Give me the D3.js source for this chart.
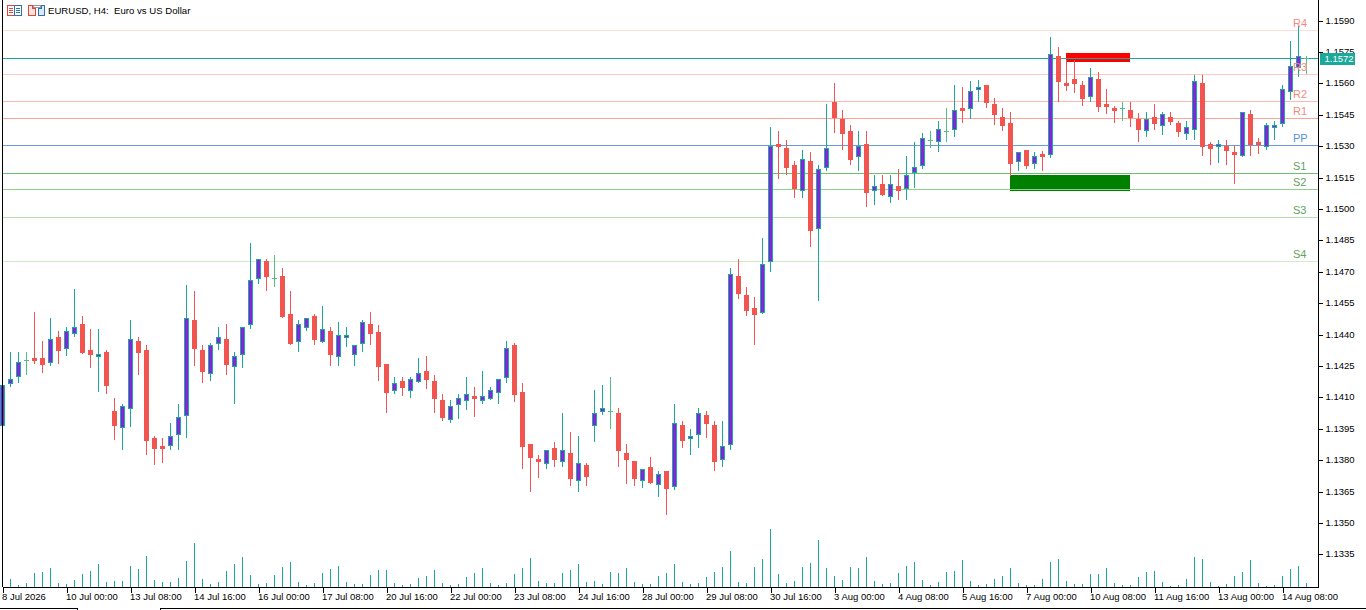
<!DOCTYPE html>
<html lang="en">
<head>
<meta charset="utf-8">
<title>EURUSD, H4</title>
<script src="https://cdn.jsdelivr.net/npm/d3@7"></script>
<style>
  html, body { margin: 0; padding: 0; background: #fff; overflow: hidden; }
  svg { display: block; }
  text { font-family: "Liberation Sans", Arial, sans-serif; font-size: 9.5px; fill: #000; }
  .axis path, .axis line { fill: none; stroke: #000; shape-rendering: crispEdges; }
  .wick, .level, .vol, .dash { shape-rendering: crispEdges; }
  rect { shape-rendering: crispEdges; }
</style>
</head>
<body>
<svg id="chart" width="1366" height="610"></svg>
<script>
var opens = [1.13962,1.14163,1.14197,1.14278,1.14288,1.14288,1.14264,1.14388,1.14331,1.14402,1.14450,1.14326,1.14293,1.14316,1.14034,1.13953,1.14044,1.14369,1.14326,1.13906,1.13867,1.13867,1.13920,1.14010,1.14469,1.14326,1.14211,1.14355,1.14378,1.14245,1.14302,1.14445,
  1.14665,1.14751,1.14670,1.14679,1.14498,1.14364,1.14431,1.14488,1.14364,1.14416,1.14293,1.14383,1.14302,1.14355,1.14450,1.14411,1.14259,1.14130,1.14177,1.14130,1.14172,1.14225,1.14177,1.14087,1.13991,1.14063,1.14082,1.14106,1.14082,1.14092,1.14121,1.14192,
  1.14350,1.14125,1.13877,1.13805,1.13781,1.13858,1.13790,1.13834,1.13700,1.13776,1.13962,1.14029,1.14034,1.14025,1.13834,1.13795,1.13700,1.13767,1.13681,1.13747,1.13672,1.13967,1.13901,1.13920,1.14015,1.13967,1.13800,1.13872,1.14679,1.14588,1.14527,1.14503,
  1.14746,1.15310,1.15291,1.15210,1.15085,1.15229,1.14904,1.15196,1.15510,1.15429,1.15372,1.15248,1.15310,1.15085,1.15119,1.15057,1.15109,1.15095,1.15172,1.15205,1.15329,1.15319,1.15372,1.15377,1.15482,1.15477,1.15568,1.15592,1.15501,1.15439,1.15411,1.15224,
  1.15281,1.15215,1.15262,1.15257,1.15730,1.15602,1.15621,1.15592,1.15535,1.15621,1.15501,1.15482,1.15482,1.15472,1.15429,1.15372,1.15439,1.15396,1.15439,1.15411,1.15358,1.15377,1.15602,1.15310,1.15296,1.15300,1.15271,1.15252,1.15453,1.15319,1.15296,1.15387,
  1.15406,1.15558,1.15673,1.15720];
var highs = [1.14158,1.14316,1.14316,1.14316,1.14507,1.14369,1.14479,1.14416,1.14436,1.14617,1.14488,1.14426,1.14426,1.14326,1.14097,1.14068,1.14469,1.14388,1.14350,1.13915,1.13906,1.13977,1.14068,1.14636,1.14607,1.14350,1.14360,1.14436,1.14450,1.14316,1.14436,1.14837,
  1.14761,1.14761,1.14780,1.14718,1.14607,1.14469,1.14479,1.14498,1.14536,1.14436,1.14459,1.14436,1.14350,1.14469,1.14507,1.14445,1.14259,1.14197,1.14197,1.14197,1.14288,1.14297,1.14206,1.14116,1.14087,1.14116,1.14197,1.14149,1.14225,1.14149,1.14187,1.14369,
  1.14360,1.14168,1.13877,1.13824,1.13848,1.13886,1.14025,1.13934,1.13915,1.13786,1.14135,1.14158,1.14197,1.14049,1.13877,1.13795,1.13757,1.13815,1.13747,1.13747,1.14068,1.13986,1.13948,1.14049,1.14034,1.13986,1.13986,1.14718,1.14761,1.14627,1.14579,1.14861,
  1.15392,1.15372,1.15329,1.15229,1.15281,1.15271,1.15210,1.15501,1.15602,1.15472,1.15401,1.15372,1.15372,1.15162,1.15162,1.15162,1.15191,1.15252,1.15319,1.15363,1.15372,1.15420,1.15482,1.15592,1.15583,1.15611,1.15616,1.15592,1.15530,1.15482,1.15462,1.15271,
  1.15281,1.15271,1.15276,1.15822,1.15774,1.15711,1.15711,1.15611,1.15673,1.15654,1.15573,1.15491,1.15510,1.15510,1.15458,1.15462,1.15501,1.15462,1.15462,1.15420,1.15420,1.15640,1.15640,1.15319,1.15329,1.15329,1.15300,1.15462,1.15472,1.15339,1.15411,1.15420,
  1.15592,1.15802,1.15873,1.15730];
var lows = [1.13962,1.14153,1.14172,1.14211,1.14264,1.14220,1.14254,1.14264,1.14302,1.14392,1.14312,1.14245,1.14130,1.14121,1.13901,1.13853,1.13962,1.14211,1.13829,1.13781,1.13790,1.13853,1.13853,1.13911,1.14254,1.14172,1.14182,1.14331,1.14211,1.14073,1.14245,1.14431,
  1.14646,1.14612,1.14631,1.14484,1.14355,1.14321,1.14421,1.14355,1.14364,1.14254,1.14254,1.14345,1.14254,1.14321,1.14355,1.14182,1.14029,1.14121,1.14111,1.14102,1.14172,1.14144,1.14029,1.13991,1.13981,1.14001,1.14044,1.14010,1.14073,1.14092,1.14073,1.14172,
  1.14082,1.13762,1.13652,1.13719,1.13762,1.13771,1.13771,1.13681,1.13652,1.13681,1.13891,1.14020,1.13953,1.13771,1.13691,1.13681,1.13672,1.13691,1.13628,1.13542,1.13662,1.13863,1.13829,1.13863,1.13911,1.13752,1.13771,1.13853,1.14574,1.14493,1.14355,1.14503,
  1.14703,1.15148,1.15167,1.15057,1.15057,1.14822,1.14565,1.15186,1.15367,1.15286,1.15215,1.15186,1.15013,1.15023,1.15066,1.15032,1.15047,1.15047,1.15105,1.15196,1.15296,1.15276,1.15324,1.15348,1.15415,1.15434,1.15515,1.15487,1.15406,1.15377,1.15162,1.15186,
  1.15196,1.15196,1.15186,1.15248,1.15515,1.15568,1.15558,1.15496,1.15515,1.15467,1.15458,1.15415,1.15425,1.15396,1.15324,1.15348,1.15382,1.15358,1.15406,1.15348,1.15334,1.15334,1.15257,1.15215,1.15224,1.15215,1.15124,1.15252,1.15257,1.15267,1.15286,1.15334,
  1.15396,1.15525,1.15635,1.15650];
var closes = [1.14158,1.14187,1.14268,1.14278,1.14273,1.14254,1.14378,1.14321,1.14416,1.14436,1.14312,1.14302,1.14307,1.14153,1.13962,1.14058,1.14378,1.14312,1.13891,1.13853,1.13853,1.13915,1.14006,1.14479,1.14331,1.14220,1.14350,1.14388,1.14254,1.14297,1.14436,1.14660,
  1.14761,1.14675,1.14670,1.14484,1.14355,1.14450,1.14479,1.14374,1.14426,1.14302,1.14397,1.14397,1.14350,1.14459,1.14402,1.14245,1.14121,1.14168,1.14144,1.14187,1.14216,1.14182,1.14092,1.14001,1.14058,1.14097,1.14116,1.14092,1.14106,1.14135,1.14187,1.14336,
  1.14111,1.13863,1.13810,1.13790,1.13848,1.13800,1.13848,1.13709,1.13786,1.13719,1.14025,1.14049,1.14034,1.13843,1.13800,1.13709,1.13757,1.13691,1.13733,1.13662,1.13977,1.13891,1.13915,1.14025,1.13972,1.13790,1.13867,1.14689,1.14593,1.14512,1.14493,1.14737,
  1.15300,1.15296,1.15196,1.15095,1.15238,1.14894,1.15191,1.15291,1.15434,1.15358,1.15234,1.15300,1.15076,1.15109,1.15066,1.15119,1.15085,1.15162,1.15201,1.15339,1.15329,1.15382,1.15372,1.15472,1.15467,1.15563,1.15583,1.15506,1.15448,1.15396,1.15215,1.15271,
  1.15205,1.15252,1.15248,1.15740,1.15606,1.15587,1.15597,1.15525,1.15631,1.15487,1.15487,1.15467,1.15482,1.15434,1.15377,1.15429,1.15406,1.15453,1.15415,1.15367,1.15392,1.15611,1.15296,1.15286,1.15310,1.15276,1.15257,1.15462,1.15305,1.15305,1.15401,1.15401,
  1.15573,1.15682,1.15730,1.15720];
var tickVolumes = [2500,2500,700,1300,4300,4600,5800,1300,1000,2200,4000,4900,7000,1600,1900,1900,6400,5500,9400,2200,1600,1600,2800,7900,13300,2500,1000,1600,4900,7000,9100,3700,
  1000,1300,3700,6100,7600,1600,700,1300,4300,5500,6400,1600,1000,1000,3700,5200,5200,1300,700,1000,2800,3400,5200,1300,700,1000,3100,4300,5800,1300,700,1300,
  4000,5800,8800,1900,1300,1300,4300,5200,7000,1600,1900,1000,4600,4300,5800,1600,1000,1000,3400,4300,7000,1600,1000,1300,3100,4600,6100,10900,1600,1300,6100,8500,
  17500,4000,1300,1900,6100,7300,14200,5800,3400,2200,6100,5800,9100,1900,1000,1300,4300,6400,7600,2200,700,1600,4600,4900,8200,1900,700,1000,2500,3400,5800,1300,
  700,700,2500,7600,8500,1900,1000,1000,4000,4000,5800,1300,700,700,3100,4600,4900,1600,400,700,2500,9100,8500,1600,400,1000,3400,4600,8200,1300,400,700,
  3400,5500,6400,1300];

var priceTicks = [1.1590,1.1575,1.1560,1.1545,1.1530,1.1515,1.1500,1.1485,1.1470,1.1455,1.1440,1.1425,1.1410,1.1395,1.1380,1.1365,1.1350,1.1335];
var dateLabels = ["8 Jul 2026","10 Jul 00:00","13 Jul 08:00","14 Jul 16:00","16 Jul 00:00","17 Jul 08:00","20 Jul 16:00","22 Jul 00:00","23 Jul 08:00","24 Jul 16:00","28 Jul 00:00","29 Jul 08:00","30 Jul 16:00","3 Aug 00:00","4 Aug 08:00","5 Aug 16:00","7 Aug 00:00","10 Aug 08:00","11 Aug 16:00","13 Aug 00:00","14 Aug 08:00"];
var dateEvery = 8;

var levelNames = ["R4","R3","R2","R1","PP","S1","S2","S3","S4"];
var levelPrices = [1.15853,1.15645,1.15515,1.15434,1.15305,1.15172,1.15095,1.14962,1.14751];
var lastPrice = 1.15720;

// supply / demand boxes: [first bar, last bar, top price, bottom price]
var zoneBars = [[133,141],[126,141]];
var zonePrices = [[1.15745,1.15701],[1.15162,1.15085]];

var BULL = "#1aa99b", BODY = "#8424dc", BEAR = "#f25450", DOJI = "#52bf84";
var levelColors = ["#ffdcd5","#ffc8c0","#ffb9b0","#ffa293","#6a9be0","#6cc070","#8ed28a","#b3e0ab","#cdeec8"];
var levelText = ["#f58a80","#f58a80","#f58a80","#f58a80","#4f93d8","#62a262","#62a262","#62a262","#62a262"];
var zoneColors = ["#ff0000","#008000"];

var svg = d3.select("#chart");
var x = d3.scaleLinear().domain([0, 163]).range([2.5, 1306.5]);
var y = d3.scaleLinear().domain([1.1590, 1.1335]).range([20.5, 554.3]);
var yVol = d3.scaleLinear().domain([0, 17500]).range([587, 529]);
var bars = d3.range(opens.length);
function py(v) { return Math.round(y(v)); }

// zones
svg.append("g").selectAll("rect").data(zoneBars).join("rect")
    .attr("x", function(d) { return x(d[0]) - 0.5; })
    .attr("width", function(d) { return x(d[1]) - x(d[0]); })
    .attr("y", function(d, i) { return py(zonePrices[i][0]); })
    .attr("height", function(d, i) { return py(zonePrices[i][1]) - py(zonePrices[i][0]); })
    .attr("fill", function(d, i) { return zoneColors[i]; });

// pivot lines
svg.append("g").selectAll("line").data(levelPrices).join("line")
    .attr("class", "level")
    .attr("x1", 2).attr("x2", 1318)
    .attr("y1", function(d) { return py(d) + 0.5; })
    .attr("y2", function(d) { return py(d) + 0.5; })
    .attr("stroke", function(d, i) { return levelColors[i]; });

// last price line
svg.append("line").attr("class", "level")
    .attr("x1", 2).attr("x2", 1318)
    .attr("y1", py(lastPrice) + 0.5).attr("y2", py(lastPrice) + 0.5)
    .attr("stroke", BULL);

// volume
svg.append("g").selectAll("line").data(bars).join("line")
    .attr("class", "vol")
    .attr("x1", function(i) { return x(i); }).attr("x2", function(i) { return x(i); })
    .attr("y1", 587)
    .attr("y2", function(i) { return Math.round(yVol(tickVolumes[i])); })
    .attr("stroke", BULL);

// candles
function kind(i) {
  if (opens[i] === closes[i]) return DOJI;
  return closes[i] > opens[i] ? BULL : BEAR;
}
var candle = svg.append("g").selectAll("g").data(bars).join("g");
candle.append("line").attr("class", "wick")
    .attr("x1", function(i) { return x(i); }).attr("x2", function(i) { return x(i); })
    .attr("y1", function(i) { return py(highs[i]); })
    .attr("y2", function(i) { return py(lows[i]) + 1; })
    .attr("stroke", kind);
candle.append("rect")
    .attr("x", function(i) { return x(i) - 2.5; })
    .attr("width", 5)
    .attr("y", function(i) { return py(Math.max(opens[i], closes[i])); })
    .attr("height", function(i) { return Math.max(1, py(Math.min(opens[i], closes[i])) - py(Math.max(opens[i], closes[i])) + (kind(i) === DOJI ? 1 : 0)); })
    .attr("fill", kind);
candle.filter(function(i) { return kind(i) === BULL; }).append("rect")
    .attr("x", function(i) { return x(i) - 1.5; })
    .attr("width", 3)
    .attr("y", function(i) { return py(closes[i]) + 1; })
    .attr("height", function(i) { return Math.max(0, py(opens[i]) - py(closes[i]) - 2); })
    .attr("fill", BODY);

// pivot names
svg.append("g").selectAll("text").data(levelNames).join("text")
    .attr("x", 1293)
    .attr("y", function(d, i) { return py(levelPrices[i]) - 3; })
    .style("fill", function(d, i) { return levelText[i]; })
    .style("font-size", "11px")
    .text(function(d) { return d; });

// axes
var yAxis = d3.axisRight(y).tickValues(priceTicks).tickSize(4).tickPadding(3)
    .tickFormat(function(d) { return d.toFixed(4); });
var gy = svg.append("g").attr("class", "axis").attr("transform", "translate(1318.5,0)").call(yAxis);
gy.select(".domain").attr("d", "M0,0V587.5");
gy.selectAll("text").attr("dy", "0.28em");

var xAxis = d3.axisBottom(x)
    .tickValues(dateLabels.map(function(d, i) { return i * dateEvery; }))
    .tickSize(5).tickPadding(1)
    .tickFormat(function(d) { return dateLabels[d / dateEvery]; });
var gx = svg.append("g").attr("class", "axis").attr("transform", "translate(0,587.5)").call(xAxis);
gx.select(".domain").attr("d", "M2.5,0H1318.5");
gx.selectAll("text").attr("text-anchor", "start").attr("x", -1);

// left border
svg.append("line").attr("class", "level").attr("x1", 2.5).attr("x2", 2.5).attr("y1", 0).attr("y2", 587).attr("stroke", "#000");

// last price tag
svg.append("rect").attr("x", 1320).attr("width", 35).attr("y", py(lastPrice) - 5).attr("height", 12).attr("fill", BULL);
svg.append("text").attr("x", 1324.5).attr("y", py(lastPrice) + 4).style("fill", "#fff").text(lastPrice.toFixed(4));

// tab strip at the bottom edge
svg.append("path").attr("class", "wick").attr("fill", "none").attr("stroke", "#000")
    .attr("d", "M0,608.5H77.5V610M160.5,610V608.5H1366");

// header
svg.append("text").attr("x", 48).attr("y", 13.5).style("font-size", "9.6px").style("white-space", "pre").text("EURUSD, H4:  Euro vs US Dollar");
var icons = svg.append("g").attr("class", "wick").attr("fill", "none");
icons.append("path").attr("stroke", "#e0473c").attr("d", "M14.5,5.5H7.5V15.5H14.5M9,8.5H13M9,10.5H13M9,12.5H13");
icons.append("path").attr("stroke", "#2f6fb5").attr("d", "M14.5,5.5H21.5V15.5H14.5V5.5M16,8.5H20M16,10.5H20M16,12.5H20");
icons.append("path").attr("stroke", "#e0473c").attr("fill", "#fde3dc").attr("d", "M28.5,5.5H32.5V8.5H35.5V15.5H28.5Z");
icons.append("path").attr("stroke", "#2f6fb5").attr("fill", "#dcebfa").attr("d", "M38.5,8.5H41.5V5.5H44.5V15.5H38.5Z");
icons.append("path").attr("stroke", "#999").attr("d", "M33.5,5.5H40.5V7.5H33.5Z");
</script>
</body>
</html>
